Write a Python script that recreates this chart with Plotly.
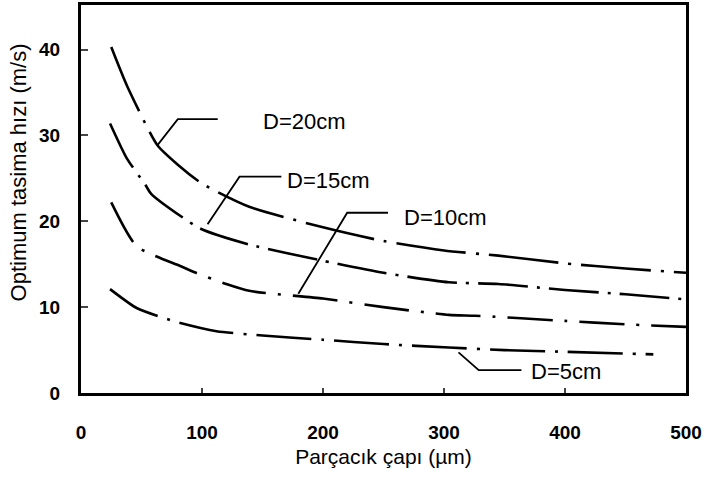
import plotly.graph_objects as go

# Particle diameter (µm) and optimum conveying velocity (m/s) for each pipe diameter
d20_x = [25, 38, 63, 80, 100, 139, 200, 250, 300, 345, 400, 450, 500]
d20_y = [40.3, 35.8, 28.9, 26.6, 24.4, 21.7, 19.3, 17.7, 16.6, 16.0, 15.1, 14.5, 14.0]

d15_x = [24, 38, 53, 58, 98, 139, 200, 250, 304, 345, 400, 450, 500]
d15_y = [31.4, 27.3, 24.3, 23.2, 19.2, 17.3, 15.4, 14.0, 12.9, 12.7, 12.0, 11.5, 10.9]

d10_x = [25, 46, 82, 95, 120, 139, 200, 250, 304, 326, 400, 450, 500]
d10_y = [22.2, 17.1, 14.8, 14.0, 12.7, 11.9, 11.0, 10.0, 9.1, 9.0, 8.4, 8.0, 7.7]

d5_x = [24, 46, 76, 112, 150, 200, 250, 304, 350, 400, 473]
d5_y = [12.1, 9.9, 8.4, 7.2, 6.7, 6.2, 5.7, 5.3, 5.0, 4.8, 4.5]

series = [
    ("D=20cm", d20_x, d20_y, "70px,10px,3px,10px"),
    ("D=15cm", d15_x, d15_y, "50px,9px,3px,9px"),
    ("D=10cm", d10_x, d10_y, "45px,12px,3px,12px"),
    ("D=5cm", d5_x, d5_y, "55px,10px,3px,10px"),
]

# Leader lines: curve point -> elbow -> end, then label position
leaders = [
    ("D=20cm", [63.4, 80, 113], [28.9, 31.9, 31.9], 149, 31.6),
    ("D=15cm", [104.6, 131, 165.6], [19.65, 25.2, 25.2], 169, 24.7),
    ("D=10cm", [179.6, 220, 253.7], [11.56, 21.0, 21.0], 265, 20.5),
    ("D=5cm", [312, 328.7, 364], [4.74, 2.66, 2.66], 370, 2.5),
]

x_ticks = [0, 100, 200, 300, 400, 500]
y_ticks = [0, 10, 20, 30, 40]

fig = go.Figure()

for name, xs, ys, dash in series:
    fig.add_trace(go.Scatter(
        x=xs, y=ys, mode="lines", name=name,
        line=dict(color="black", width=2.6, dash=dash, shape="spline", smoothing=0.6),
        showlegend=False, hoverinfo="skip",
    ))

for name, lx, ly, tx, ty in leaders:
    fig.add_trace(go.Scatter(
        x=lx, y=ly, mode="lines",
        line=dict(color="black", width=1.8),
        showlegend=False, hoverinfo="skip",
    ))
    fig.add_annotation(
        x=tx, y=ty, text=name, showarrow=False,
        xanchor="left", yanchor="middle",
        font=dict(family="Liberation Sans", size=22, color="black"),
    )

# Vertical axis title, placed a little above the plot's mid-height
fig.add_annotation(
    xref="paper", yref="y", x=0, y=25.7, xshift=-63,
    text="Optimum tasima hızı (m/s)", textangle=-90, showarrow=False,
    xanchor="center", yanchor="middle",
    font=dict(family="Liberation Sans", size=22, color="black"),
)

fig.update_layout(
    width=704, height=485,
    margin=dict(l=81, r=16, t=2, b=92),
    paper_bgcolor="white", plot_bgcolor="white",
    font=dict(family="Liberation Sans", color="black"),
)

fig.update_xaxes(
    range=[0, 500], tickvals=x_ticks,
    ticktext=[f"<b>{v}</b>" for v in x_ticks],
    tickfont=dict(size=19), ticks="inside", ticklen=5, tickwidth=1.5,
    ticklabelstandoff=20,
    showline=True, linecolor="black", linewidth=3, mirror=True,
    showgrid=False, zeroline=False,
    title=dict(text="Parçacık çapı (µm)", font=dict(size=21), standoff=8),
)

fig.update_yaxes(
    range=[0, 45.2], tickvals=y_ticks,
    ticktext=[f"<b>{v}</b>" for v in y_ticks],
    tickfont=dict(size=19), ticks="inside", ticklen=7, tickwidth=1.5,
    ticklabelstandoff=14,
    showline=True, linecolor="black", linewidth=3, mirror=True,
    showgrid=False, zeroline=False,
)

fig.write_html("out.html")
